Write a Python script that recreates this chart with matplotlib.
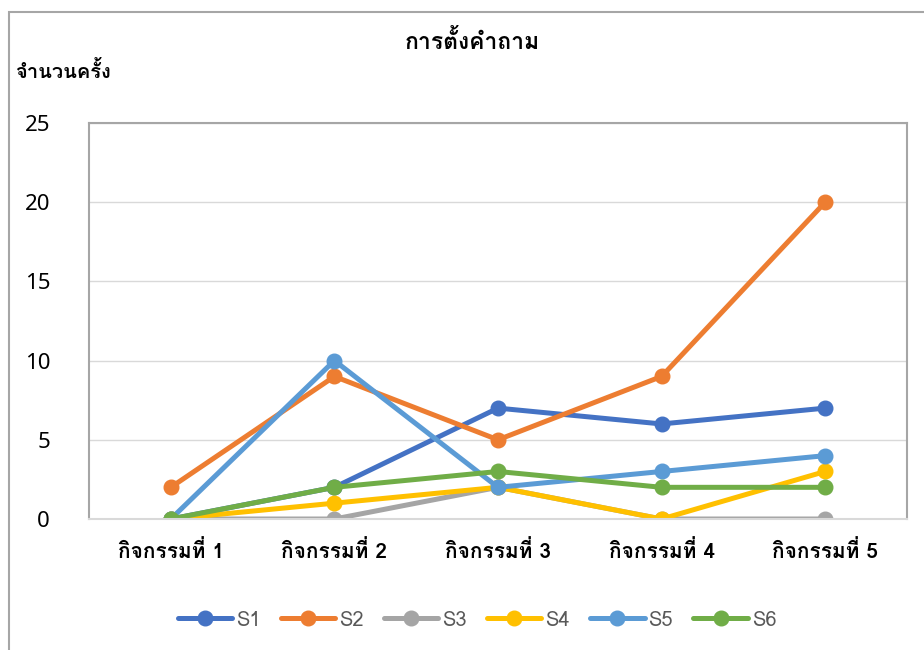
import matplotlib
matplotlib.use("Agg")
import matplotlib.pyplot as plt
from matplotlib import font_manager
from matplotlib.patches import Rectangle

# data
activities = ["กิจกรรมที่ 1", "กิจกรรมที่ 2", "กิจกรรมที่ 3", "กิจกรรมที่ 4", "กิจกรรมที่ 5"]
series_names = ["S1", "S2", "S3", "S4", "S5", "S6"]
s1 = [0, 2, 7, 6, 7]
s2 = [2, 9, 5, 9, 20]
s3 = [0, 0, 2, 0, 0]
s4 = [0, 1, 2, 0, 3]
s5 = [0, 10, 2, 3, 4]
s6 = [0, 2, 3, 2, 2]
colors = ["#4472C4", "#ED7D31", "#A5A5A5", "#FFC000", "#5B9BD5", "#70AD47"]
y_ticks = [0, 5, 10, 15, 20, 25]

# find an installed family with Thai glyphs
thai_family = None
for f in font_manager.fontManager.ttflist:
    try:
        if font_manager.get_font(f.fname).get_char_index(0x0E01):
            thai_family = f.name
            break
    except Exception:
        pass
families = [thai_family, "DejaVu Sans"] if thai_family else ["DejaVu Sans"]
plt.rcParams["font.family"] = families

fig = plt.figure(figsize=(9.24, 6.5), dpi=100)
ax = fig.add_axes([89 / 924, 1 - 519 / 650, 818 / 924, 396 / 650])

# outer chart border
fig.patches.append(Rectangle((9 / 924, -0.1), 1.2, 1 - 12 / 650 + 0.1,
                             transform=fig.transFigure, fill=False,
                             edgecolor="#A6A6A6", linewidth=1.5))

x = list(range(len(activities)))
for name, vals, c in zip(series_names, [s1, s2, s3, s4, s5, s6], colors):
    ax.plot(x, vals, color=c, linewidth=3.6, marker="o", markersize=10.5,
            solid_capstyle="round", label=name)

ax.set_xlim(-0.5, len(activities) - 0.5)
ax.set_ylim(0, 25)
ax.set_yticks(y_ticks)
ax.set_xticks(x)
ax.set_xticklabels(activities, fontsize=15, fontweight="bold")
ax.set_yticklabels([str(v) for v in y_ticks], fontsize=16,
                   family=["Noto Sans"] + families)
ax.tick_params(axis="y", length=0, pad=28)
ax.tick_params(axis="x", length=0, pad=15)
ax.grid(axis="y", color="#D9D9D9", linewidth=1)
ax.set_axisbelow(True)
for side in ["left", "top", "right"]:
    ax.spines[side].set_color("#A6A6A6")
    ax.spines[side].set_linewidth(1.5)
ax.spines["bottom"].set_color("#D9D9D9")
ax.spines["bottom"].set_linewidth(1.5)

fig.text(472 / 924, 1 - 41 / 650, "การตั้งคำถาม", ha="center", va="center",
         fontsize=16.5, fontweight="bold")
fig.text(15 / 924, 1 - 72 / 650, "จำนวนครั้ง", ha="left", va="center",
         fontsize=14.5, fontweight="bold")

leg = fig.legend(loc="center", bbox_to_anchor=(477 / 924, 1 - 620 / 650),
                 ncol=6, frameon=False, fontsize=14.5, handlelength=2.7,
                 handletextpad=0.2, columnspacing=1.0)
for t in leg.get_texts():
    t.set_color("#595959")

fig.savefig("out.png", dpi=100)
